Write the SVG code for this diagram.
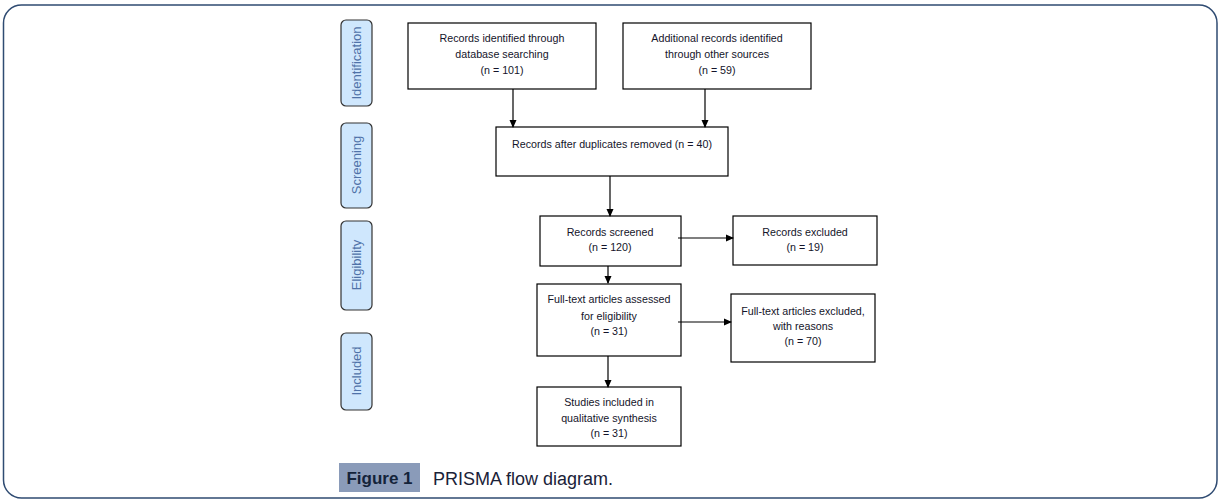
<svg xmlns="http://www.w3.org/2000/svg" width="1225" height="501" viewBox="0 0 1225 501">
<defs>
<marker id="ah" markerWidth="8" markerHeight="8" refX="7" refY="4" orient="auto" markerUnits="userSpaceOnUse">
<path d="M0,0.5 L8,4 L0,7.5 Z" fill="#000"/>
</marker>
<style>
.box{fill:#fff;stroke:#000;stroke-width:1.2}
.side{fill:#cfe7fd;stroke:#333;stroke-width:1.2}
.t{font-family:"Liberation Sans",Arial,sans-serif;font-size:10.7px;fill:#14142a;text-anchor:middle}
.st{font-family:"Liberation Sans",Arial,sans-serif;font-size:13px;fill:#4f72a8;text-anchor:middle}
.c{stroke:#000;stroke-width:1.2;fill:none;marker-end:url(#ah)}
</style>
</defs>
<rect x="3.5" y="5" width="1213.5" height="493" rx="18" ry="18" fill="#fff" stroke="#2f4b72" stroke-width="1.5"/>

<g id="lbl-identification">
<rect class="side" x="341" y="20" width="31" height="86" rx="5"/>
<text class="st" transform="translate(361,63) rotate(-90)">Identification</text>
</g>
<g id="lbl-screening">
<rect class="side" x="341" y="123" width="31" height="85" rx="5"/>
<text class="st" transform="translate(361,165) rotate(-90)">Screening</text>
</g>
<g id="lbl-eligibility">
<rect class="side" x="341" y="221" width="31" height="89" rx="5"/>
<text class="st" transform="translate(361,265) rotate(-90)">Eligibility</text>
</g>
<g id="lbl-included">
<rect class="side" x="341" y="333" width="31" height="77" rx="5"/>
<text class="st" transform="translate(361,371) rotate(-90)">Included</text>
</g>

<g id="n-db">
<rect class="box" x="408" y="23" width="188" height="66"/>
<text class="t" x="502" y="42">Records identified through</text>
<text class="t" x="502" y="58">database searching</text>
<text class="t" x="502" y="74">(n = 101)</text>
</g>
<g id="n-other">
<rect class="box" x="623" y="23" width="188" height="66"/>
<text class="t" x="717" y="42">Additional records identified</text>
<text class="t" x="717" y="58">through other sources</text>
<text class="t" x="717" y="74">(n = 59)</text>
</g>
<g id="n-dup">
<rect class="box" x="496" y="127" width="232" height="49"/>
<text class="t" x="612" y="148">Records after duplicates removed (n = 40)</text>
</g>
<g id="n-screened">
<rect class="box" x="540" y="216" width="141" height="50"/>
<text class="t" x="610" y="236">Records screened</text>
<text class="t" x="610" y="251">(n = 120)</text>
</g>
<g id="n-excluded">
<rect class="box" x="733" y="216" width="144" height="49"/>
<text class="t" x="805" y="236">Records excluded</text>
<text class="t" x="805" y="251">(n = 19)</text>
</g>
<g id="n-fulltext">
<rect class="box" x="537" y="284" width="144" height="72"/>
<text class="t" x="609" y="303">Full-text articles assessed</text>
<text class="t" x="609" y="320">for eligibility</text>
<text class="t" x="609" y="335">(n = 31)</text>
</g>
<g id="n-ftexcluded">
<rect class="box" x="731" y="294" width="144" height="68"/>
<text class="t" x="803" y="315">Full-text articles excluded,</text>
<text class="t" x="803" y="330">with reasons</text>
<text class="t" x="803" y="345">(n = 70)</text>
</g>
<g id="n-included">
<rect class="box" x="537" y="387" width="144" height="59"/>
<text class="t" x="609" y="406">Studies included in</text>
<text class="t" x="609" y="422">qualitative synthesis</text>
<text class="t" x="609" y="437">(n = 31)</text>
</g>

<g id="connectors">
<line class="c" x1="513" y1="89" x2="513" y2="127"/>
<line class="c" x1="705" y1="89" x2="705" y2="127"/>
<line class="c" x1="610" y1="176" x2="610" y2="216"/>
<line class="c" x1="608" y1="266" x2="608" y2="283"/>
<line class="c" x1="608" y1="356" x2="608" y2="387"/>
<line class="c" x1="678" y1="238" x2="733" y2="238"/>
<line class="c" x1="678" y1="322" x2="731" y2="322"/>
</g>

<g id="caption">
<rect x="339" y="463" width="81" height="29" fill="#8a9bb9"/>
<text x="379.5" y="484" font-family="'Liberation Sans',Arial,sans-serif" font-size="17px" font-weight="bold" fill="#14233a" text-anchor="middle">Figure 1</text>
<text x="433" y="485" font-family="'Liberation Sans',Arial,sans-serif" font-size="18px" fill="#1a2238">PRISMA flow diagram.</text>
</g>
</svg>
